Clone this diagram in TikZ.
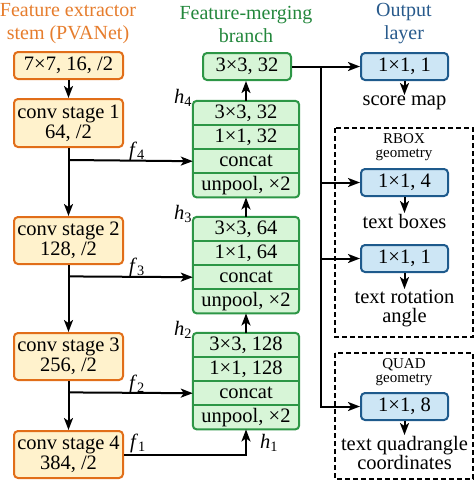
\documentclass[tikz,border=0pt]{standalone}
\usepackage{fontspec}
\setmainfont{Liberation Serif}
\usetikzlibrary{arrows.meta,backgrounds}
\definecolor{orT}{RGB}{230,125,45}
\definecolor{orB}{RGB}{225,110,25}
\definecolor{orF}{RGB}{255,242,204}
\definecolor{grT}{RGB}{35,135,60}
\definecolor{grB}{RGB}{45,150,70}
\definecolor{grF}{RGB}{215,245,215}
\definecolor{blT}{RGB}{40,90,140}
\definecolor{blB}{RGB}{30,90,140}
\definecolor{blF}{RGB}{205,230,245}
\begin{document}
\begin{tikzpicture}[x=1pt,y=-1pt,
  font=\fontsize{20.5}{20}\selectfont,
  arr/.style={-{Stealth[length=12pt,width=9pt,inset=3pt]}, line width=2pt},
  ttl/.style={align=center, inner sep=0pt, font=\fontsize{20}{23}\selectfont},
  obox/.style={draw=orB, fill=orF, line width=2pt, rounded corners=4pt, minimum width=109pt, inner sep=0pt, align=center},
  gbox/.style={draw=grB, fill=grF, line width=2pt, rounded corners=4pt, inner sep=0pt, align=center},
  rowbox/.style={minimum width=106pt, minimum height=23.75pt, inner sep=0pt},
  gblock/.style={draw=grB, fill=grF, line width=2pt, rounded corners=4pt},
  gsep/.style={draw=grB, line width=2pt},
  bbox/.style={draw=blB, fill=blF, line width=2pt, rounded corners=4pt, minimum width=87pt, minimum height=27pt, inner sep=0pt},
  lbl/.style={align=center, inner sep=1pt, font=\fontsize{20.5}{19}\selectfont},
  small/.style={align=center, inner sep=0pt, font=\fontsize{15}{14}\selectfont},
  dbox/.style={dashed, line width=1.5pt, dash pattern=on 5pt off 3pt},
  var/.style={inner sep=0pt}
]
\useasboundingbox (0,0) rectangle (474,480);

% titles
\node[ttl, text=orT] (t1) at (68,24) {Feature extractor\\stem (PVANet)};
\node[ttl, text=grT] (t2) at (246,24) {Feature-merging\\branch};
\node[ttl, text=blT] (t3) at (404,24) {Output\\layer};

% left column
\node[obox, minimum height=27pt] (s0) at (68.5,65.5) {7×7, 16, /2};
\node[obox, minimum height=48pt] (s1) at (68.5,123) {conv stage 1\\64, /2};
\node[obox, minimum height=47pt] (s2) at (68.5,240.5) {conv stage 2\\128, /2};
\node[obox, minimum height=47pt] (s3) at (68.5,356.5) {conv stage 3\\256, /2};
\node[obox, minimum height=47pt] (s4) at (68.5,454.5) {conv stage 4\\384, /2};

% green top box
\node[gbox, minimum width=88pt, minimum height=27pt] (top) at (247,66.5) {3×3, 32};

% block h4
\node[rowbox] (h4a) at (246,112.9) {3×3, 32};
\node[rowbox, anchor=north] (h4b) at (h4a.south) {1×1, 32};
\node[rowbox, anchor=north] (h4c) at (h4b.south) {concat};
\node[rowbox, anchor=north] (h4d) at (h4c.south) {unpool, ×2};
% block h3
\node[rowbox] (h3a) at (246,228.9) {3×3, 64};
\node[rowbox, anchor=north] (h3b) at (h3a.south) {1×1, 64};
\node[rowbox, anchor=north] (h3c) at (h3b.south) {concat};
\node[rowbox, anchor=north] (h3d) at (h3c.south) {unpool, ×2};
% block h2
\node[rowbox] (h2a) at (246,344.9) {3×3, 128};
\node[rowbox, anchor=north] (h2b) at (h2a.south) {1×1, 128};
\node[rowbox, anchor=north] (h2c) at (h2b.south) {concat};
\node[rowbox, anchor=north] (h2d) at (h2c.south) {unpool, ×2};

\begin{scope}[on background layer]
  \draw[gblock] (h4a.north west) rectangle (h4d.south east);
  \draw[gblock] (h3a.north west) rectangle (h3d.south east);
  \draw[gblock] (h2a.north west) rectangle (h2d.south east);
\end{scope}
\foreach \b in {h4,h3,h2}{
  \foreach \r in {a,b,c}{
    \draw[gsep] (\b\r.south west) -- (\b\r.south east);
  }
}

% output column
\node[bbox] (o1) at (404.5,66.5) {1×1, 1};
\node[lbl, anchor=north] (l1) at (404.5,95) {score map};
\node[bbox] (o2) at (404.5,182.5) {1×1, 4};
\node[lbl, anchor=north] (l2) at (404.5,213) {text boxes};
\node[bbox] (o3) at (404.5,258.5) {1×1, 1};
\node[lbl, anchor=north] (l3) at (404.5,289) {text rotation\\angle};
\node[bbox] (o4) at (404.5,406.5) {1×1, 8};
\node[lbl, anchor=north] (l4) at (404.5,435) {text quadrangle\\coordinates};

\node[small] (rb) at (404,147) {RBOX\\geometry};
\node[small] (qd) at (404,372) {QUAD\\geometry};
\draw[dbox] (335,128) rectangle (473,337);
\draw[dbox] (335,353) rectangle (473,479);

% left connectors
\coordinate (b4) at (68.5,160);
\coordinate (b3) at (68.5,276.4);
\coordinate (b2) at (68.5,392.4);
\draw[arr] (s0.south) -- (s1.north);
\draw[arr] (s1.south) -- (s2.north);
\draw[arr] (s2.south) -- (s3.north);
\draw[arr] (s3.south) -- (s4.north);
\draw[arr] (b4) -- (h4c.west);
\draw[arr] (b3) -- (h3c.west);
\draw[arr] (b2) -- (h2c.west);
\draw[arr] (s4.east) -| (h2d.south);

% green connectors
\draw[arr] (h4a.north) -- (h4a.north |- top.south);
\draw[arr] (h3a.north) -- (h4d.south);
\draw[arr] (h2a.north) -- (h3d.south);

% right connectors
\coordinate (v) at (321,66.5);
\draw[arr] (top.east) -- (o1.west);
\draw[arr] (v) |- (o4.west);
\draw[arr] (v |- o2.west) -- (o2.west);
\draw[arr] (v |- o3.west) -- (o3.west);
\draw[arr] (o1.south) -- (l1.north);
\draw[arr] (o2.south) -- (l2.north);
\draw[arr] (o3.south) -- (l3.north);
\draw[arr] (o4.south) -- (l4.north);

% variable labels
\node[var] (f4) at (137,151) {\textit{f}\textsubscript{4}};
\node[var] (f3) at (137,267) {\textit{f}\textsubscript{3}};
\node[var] (f2) at (137,384) {\textit{f}\textsubscript{2}};
\node[var] (f1) at (138,443) {\textit{f}\textsubscript{1}};
\node[var] (hh4) at (183,98) {\textit{h}\textsubscript{4}};
\node[var] (hh3) at (183,214) {\textit{h}\textsubscript{3}};
\node[var] (hh2) at (183,330) {\textit{h}\textsubscript{2}};
\node[var] (hh1) at (269,443) {\textit{h}\textsubscript{1}};
\end{tikzpicture}
\end{document}
